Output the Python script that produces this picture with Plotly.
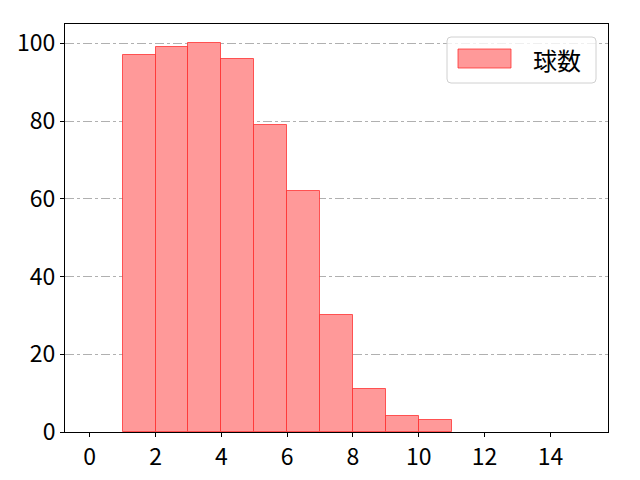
import plotly.graph_objects as go

bin_left = [1, 2, 3, 4, 5, 6, 7, 8, 9, 10]
counts = [97, 99, 100, 96, 79, 62, 30, 11, 4, 3]
series_name = "球数"
x_ticks = [0, 2, 4, 6, 8, 10, 12, 14]
y_ticks = [0, 20, 40, 60, 80, 100]

FONT = "Noto Sans CJK JP"
W, H = 640, 480
L, R, T, B = 65, 32, 24, 48

fig = go.Figure()
fig.add_trace(go.Bar(
    x=[b + 0.5 for b in bin_left], y=counts, width=1,
    marker=dict(color="rgb(255,153,153)", line=dict(color="rgba(255,40,40,0.75)", width=1)),
    name=series_name, showlegend=False,
))

axis_common = dict(
    showline=True, linecolor="black", linewidth=1, mirror=True,
    ticks="outside", ticklen=4, tickcolor="black", tickwidth=1,
    tickfont=dict(family=FONT, size=23, color="black"), zeroline=False,
    automargin=False,
)
fig.update_xaxes(range=[-0.75, 15.75], tickvals=x_ticks, showgrid=False, **axis_common)
fig.update_yaxes(range=[0, 105], tickvals=y_ticks, showgrid=True,
                 gridcolor="#b0b0b0", griddash="dashdot", gridwidth=1, **axis_common)

pw, ph = W - L - R, H - T - B
def px(x): return (x - L) / pw
def py(y): return 1 - (y - T) / ph

# legend box (rounded)
x0, x1, y0, y1 = px(447), px(596), py(83), py(37)
rx, ry = 4 / pw, 4 / ph
path = (f"M {x0+rx},{y0} L {x1-rx},{y0} Q {x1},{y0} {x1},{y0+ry} "
        f"L {x1},{y1-ry} Q {x1},{y1} {x1-rx},{y1} L {x0+rx},{y1} "
        f"Q {x0},{y1} {x0},{y1-ry} L {x0},{y0+ry} Q {x0},{y0} {x0+rx},{y0} Z")
fig.add_shape(type="path", path=path, xref="paper", yref="paper",
              line=dict(color="#d0d0d0", width=1), fillcolor="rgba(255,255,255,0.8)")
fig.add_shape(type="rect", xref="paper", yref="paper",
              x0=px(458), x1=px(511), y0=py(68), y1=py(49),
              fillcolor="rgb(255,153,153)", line=dict(color="rgba(255,40,40,0.75)", width=1))
fig.add_annotation(x=px(531), y=py(59), xref="paper", yref="paper", text=series_name,
                   showarrow=False, xanchor="left", yanchor="middle",
                   font=dict(family=FONT, size=24, color="black"))

fig.update_layout(
    width=W, height=H, margin=dict(l=L, r=R, t=T, b=B, autoexpand=False),
    paper_bgcolor="white", plot_bgcolor="white", bargap=0,
    font=dict(family=FONT, size=23, color="black"),
)
fig.write_html("out.html", config={"displayModeBar": False},
               post_script="document.body.style.margin='0';")
